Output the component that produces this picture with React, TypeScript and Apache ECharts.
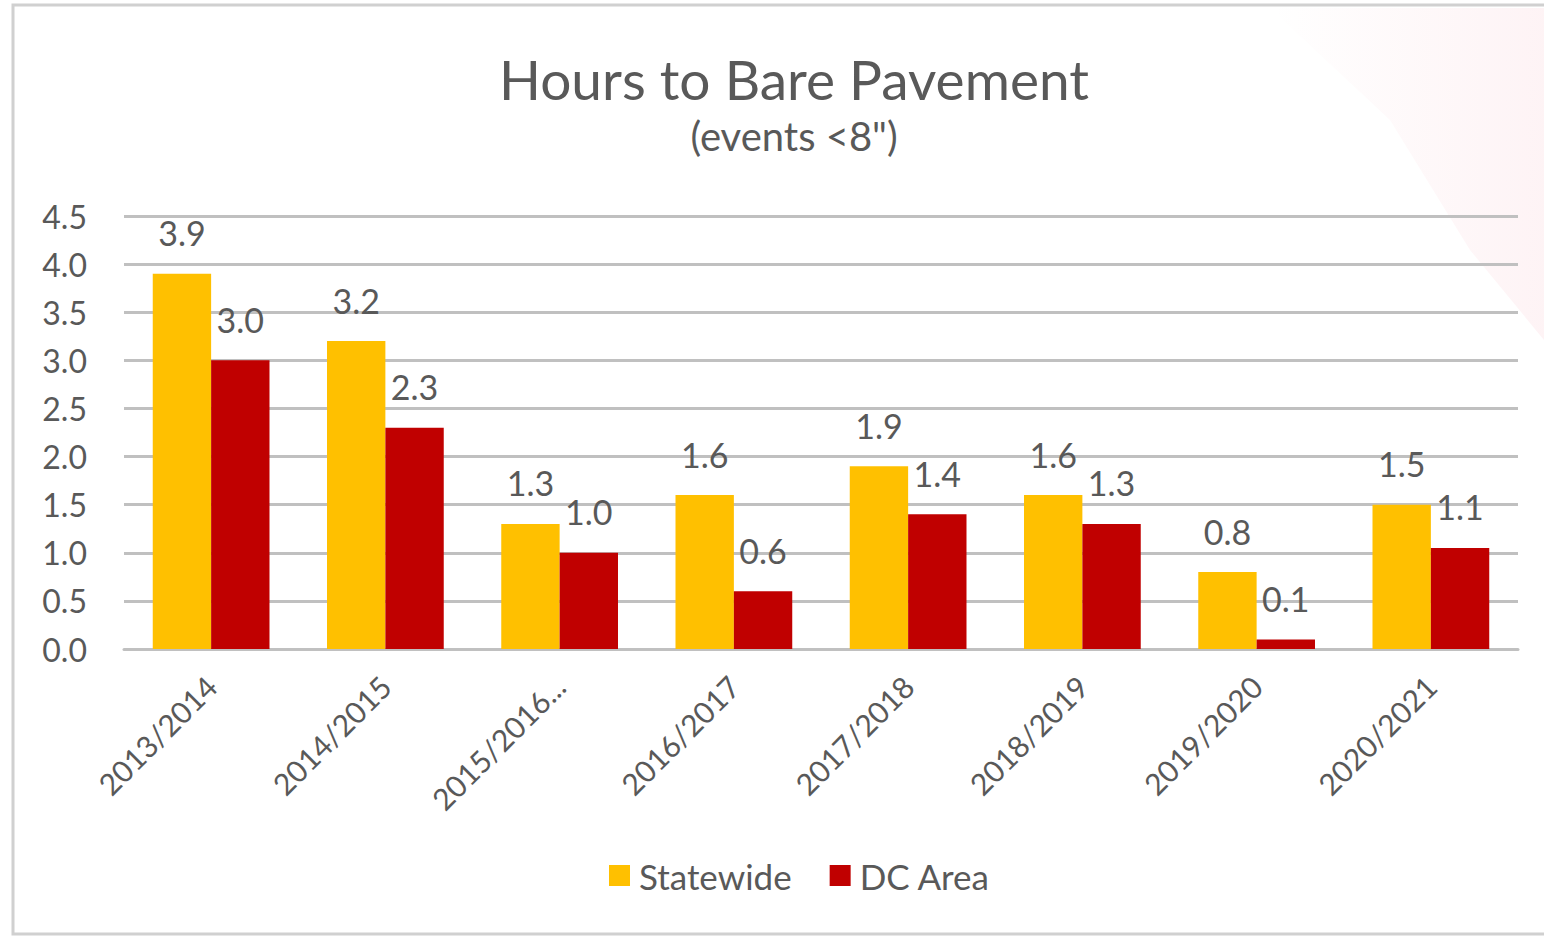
import React, { useEffect, useRef } from "react";
import * as echarts from "echarts";

const categories = ["2013/2014", "2014/2015", "2015/2016...", "2016/2017", "2017/2018", "2018/2019", "2019/2020", "2020/2021"];
const statewide = [3.9, 3.2, 1.3, 1.6, 1.9, 1.6, 0.8, 1.5];
const dcArea = [3.0, 2.3, 1.0, 0.6, 1.4, 1.3, 0.1, 1.05];
const yTicks = { min: 0, max: 4.5, interval: 0.5 };

const FONT = "Lato";
const TEXT = "#595959";

export default function App() {
  const ref = useRef<HTMLDivElement>(null);
  useEffect(() => {
    if (!ref.current) return;
    const chart = echarts.init(ref.current, undefined, { renderer: "svg" });
    const label = {
      show: true,
      position: "top" as const,
      distance: 24,
      fontSize: 34,
      fontFamily: FONT,
      color: TEXT,
      formatter: (p: any) => Number(p.value).toFixed(1),
    };
    chart.setOption({
      animation: false,
      backgroundColor: "#ffffff",
      textStyle: { fontFamily: FONT },
      title: {
        text: "Hours to Bare Pavement",
        subtext: '(events <8")',
        left: 789,
        textAlign: "center",
        top: 46,
        itemGap: 10,
        textStyle: { fontSize: 55, fontWeight: "normal", color: TEXT, fontFamily: FONT },
        subtextStyle: { fontSize: 40, color: TEXT, fontFamily: FONT },
      },
      graphic: [
        {
          type: "polygon",
          shape: { points: [[1270, 8], [1544, 8], [1544, 340], [1470, 250], [1390, 120]] },
          style: {
            fill: new echarts.graphic.LinearGradient(0, 0, 1, 0, [
              { offset: 0, color: "rgba(235,60,90,0)" },
              { offset: 1, color: "rgba(235,60,90,0.06)" },
            ]),
          },
          silent: true,
        },
        {
          type: "rect",
          shape: { x: 13, y: 5, width: 1560, height: 929 },
          style: { fill: "none", stroke: "#d0d0d0", lineWidth: 3 },
          silent: true,
        },
      ],
      legend: {
        top: 853,
        left: 604,
        itemWidth: 21,
        itemHeight: 21,
        itemGap: 38,
        icon: "rect",
        textStyle: { fontSize: 35, color: TEXT, fontFamily: FONT, padding: [0, 0, 0, 4] },
        data: ["Statewide", "DC Area"],
      },
      grid: { left: 124, right: 26, top: 216, bottom: 288 },
      xAxis: {
        type: "category",
        data: categories,
        axisLine: { show: true, lineStyle: { color: "#c0c0c0", width: 3 } },
        axisTick: { show: false },
        axisLabel: { rotate: 45, fontSize: 30, color: TEXT, fontFamily: FONT, margin: 32, interval: 0 },
      },
      yAxis: {
        type: "value",
        min: yTicks.min,
        max: yTicks.max,
        interval: yTicks.interval,
        axisLine: { show: false },
        axisTick: { show: false },
        splitLine: { lineStyle: { color: "#c0c0c0", width: 3 } },
        axisLabel: { fontSize: 32, color: TEXT, fontFamily: FONT, margin: 37, formatter: (v: number) => v.toFixed(1) },
      },
      series: [
        {
          name: "Statewide",
          type: "bar",
          data: statewide,
          barGap: "0%",
          barCategoryGap: "33%",
          itemStyle: { color: "#FFC000" },
          label,
        },
        {
          name: "DC Area",
          type: "bar",
          data: dcArea,
          barGap: "0%",
          barCategoryGap: "33%",
          itemStyle: { color: "#C00000" },
          label,
        },
      ],
    });
    return () => chart.dispose();
  }, []);
  return <div ref={ref} style={{ position: "fixed", left: 0, top: 0, width: 1544, height: 937 }} />;
}
